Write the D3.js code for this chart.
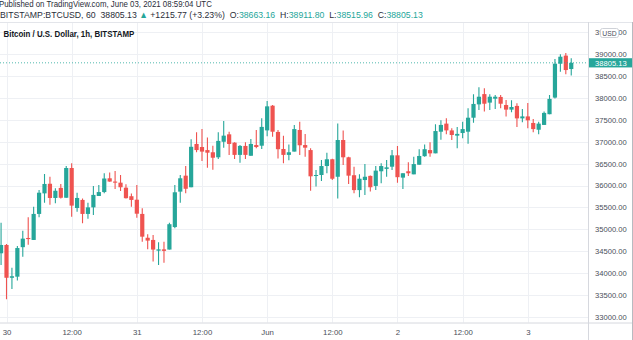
<!DOCTYPE html>
<html><head><meta charset="utf-8">
<script src="https://cdn.jsdelivr.net/npm/d3@7"></script>
<style>html,body{margin:0;padding:0;background:#fff;overflow:hidden}</style>
</head><body><svg id="c" width="633" height="340"></svg>
<script>
// ---- data (BTCUSD 1h candles, May 29 23:00 UTC -> Jun 3 08:00 UTC) ----
const startTime = "2021-05-29T23:00:00Z";
const open = [34450,34640,33890,33915,34590,34800,34755,35350,35820,36040,
35715,35945,35720,36400,35485,35670,35350,35500,35760,35850,
36165,36090,36065,35950,35755,35675,35350,34805,34755,34510,
34540,34535,35050,35860,36225,35960,36950,36880,36810,36760,
36645,37000,37170,36980,36700,36905,36680,36925,36910,37260,
37825,37225,36835,36700,36775,37270,36925,36810,36220,36240,
36445,36600,36200,37040,36645,36235,35895,36125,36220,35990,
36325,36380,36430,36690,36180,36325,36255,36475,36670,36810,
36735,37230,37415,37260,37140,37200,37230,37550,37855,38090,
37895,37985,38025,37840,37735,37820,37535,37580,37430,37275,
37385,37630,38010,38785,38970,38663.16];
const high = [35150,34660,34120,34615,34965,35275,35515,35895,36265,36200,
35935,36035,36445,36510,35835,35700,35605,35990,36010,36280,
36300,36330,36240,36030,35815,36010,35480,34885,34870,34700,
34715,35150,36010,36240,36445,37055,37215,37290,37095,36910,
37215,37475,37230,36990,36925,36990,37065,37270,37535,37930,
37840,37270,37140,36940,37385,37460,37180,36850,36355,36585,
36750,36610,37420,37255,36660,36430,36255,36490,36230,36445,
36510,36585,36810,36905,36280,36530,36660,36830,36940,36990,
37400,37490,37535,37310,37340,37460,37765,38085,38245,38225,
38085,38070,38070,37955,37950,37880,37750,37885,37520,37460,
37690,38070,38890,39000,39030,38911.80];
const low = [34185,33400,33635,33825,34370,34645,34755,35275,35605,35560,
35595,35700,35720,35285,35400,35135,35240,35325,35760,35820,
36085,35920,35875,35705,35515,35265,34715,34540,34260,34185,
34235,34535,35020,35605,35820,35960,36760,36560,36405,36360,
36605,36865,36700,36605,36520,36605,36680,36850,36835,37125,
37115,36620,36510,36575,36775,36700,36660,35880,35975,36105,
36280,36125,35700,36470,36035,35820,35730,35785,35860,35895,
36050,36200,36355,36065,35920,36220,36255,36475,36660,36660,
36735,37045,37170,37040,36850,37080,36955,37435,37725,37690,
37725,37750,37765,37580,37675,37340,37445,37310,37215,37170,
37385,37630,37990,38600,38545,38515.96];
const close = [34640,33890,33925,34570,34785,34775,35350,35835,36035,35715,
35880,35720,36400,35540,35715,35350,35500,35785,35850,36160,
36090,36065,35960,35710,35670,35355,34830,34740,34535,34540,
34505,35115,35845,36165,35925,36885,36810,36775,36750,36635,
37020,37140,36950,36700,36905,36700,36950,36880,37340,37810,
37230,36830,36700,36760,37290,36920,36865,36210,36240,36445,
36600,36155,37040,36645,36225,35895,36155,36200,35960,36340,
36445,36415,36690,36190,36280,36280,36490,36675,36830,36735,
37245,37385,37260,37155,37180,37290,37550,37865,38030,37870,
38030,38030,37870,37735,37795,37535,37580,37490,37290,37415,
37660,37980,38785,38945,38640,38805.13];
const yTicks = [33000,33500,34000,34500,35000,35500,36000,36500,37000,37500,38000,38500,39000,39500];
const xTickTimes = ["2021-05-30T00:00:00Z","2021-05-30T12:00:00Z","2021-05-31T00:00:00Z","2021-05-31T12:00:00Z","2021-06-01T00:00:00Z","2021-06-01T12:00:00Z","2021-06-02T00:00:00Z","2021-06-02T12:00:00Z","2021-06-03T00:00:00Z"];
const xTickLabels = ["30","12:00","31","12:00","Jun","12:00","2","12:00","3"];
const lastPrice = 38805.13;
const headerLine1 = "Published on TradingView.com, June 03, 2021 08:59:04 UTC";
const title = "Bitcoin / U.S. Dollar, 1h, BITSTAMP";

// ---- layout ----
const UP = "#26a69a", DOWN = "#ef5350";
const paneL = 0, paneR = 588, paneT = 22, paneB = 322.5, W = 633;
const svg = d3.select("#c");
const font = "'Liberation Sans', Arial, sans-serif";

const t0 = new Date(startTime).getTime();
const candles = open.map((o, i) => ({t: new Date(t0 + i * 3600e3), o, h: high[i], l: low[i], c: close[i]}));

const x = d3.scaleUtc()
  .domain([new Date("2021-05-30T00:00:00Z"), new Date("2021-06-03T00:00:00Z")])
  .range([6.5, 527.8]);
const y = d3.scaleLinear().domain([33000, 39000]).range([316.7, 54.3]);

// gridlines
const grid = svg.append("g");
grid.selectAll("line.h").data(yTicks).join("line")
  .attr("x1", paneL).attr("x2", paneR)
  .attr("y1", d => Math.round(y(d)) + 0.5).attr("y2", d => Math.round(y(d)) + 0.5)
  .attr("stroke", "#eef0f4").attr("stroke-width", 1);
grid.selectAll("line.v").data(xTickTimes).join("line")
  .attr("y1", paneT).attr("y2", paneB)
  .attr("x1", d => Math.round(x(new Date(d))) + 0.5).attr("x2", d => Math.round(x(new Date(d))) + 0.5)
  .attr("stroke", "#eef0f4").attr("stroke-width", 1);

// borders
svg.append("line").attr("x1", 0).attr("x2", W).attr("y1", paneT + 0.5).attr("y2", paneT + 0.5).attr("stroke", "#e3e5ea");
svg.append("line").attr("x1", 0).attr("x2", 632).attr("y1", paneB + 0.5).attr("y2", paneB + 0.5).attr("stroke", "#d6d8de");
svg.append("line").attr("x1", paneR + 0.5).attr("x2", paneR + 0.5).attr("y1", paneT).attr("y2", 340).attr("stroke", "#d6d8de");
svg.append("line").attr("x1", 632.5).attr("x2", 632.5).attr("y1", paneT).attr("y2", 340).attr("stroke", "#b8bac0");

// candles
svg.append("clipPath").attr("id", "clp").append("rect")
  .attr("x", paneL).attr("y", paneT + 1).attr("width", paneR - paneL).attr("height", paneB - paneT - 1);
const cg = svg.append("g").attr("clip-path", "url(#clp)");
const bw = 4.2;
const cs = cg.selectAll("g.c").data(candles).join("g");
cs.append("line")
  .attr("x1", d => x(d.t)).attr("x2", d => x(d.t))
  .attr("y1", d => y(d.h)).attr("y2", d => y(d.l))
  .attr("stroke", d => d.c >= d.o ? UP : DOWN).attr("stroke-width", 1.1);
cs.append("rect")
  .attr("x", d => x(d.t) - bw / 2).attr("width", bw)
  .attr("y", d => y(Math.max(d.o, d.c)))
  .attr("height", d => Math.max(1, Math.abs(y(d.o) - y(d.c))))
  .attr("fill", d => d.c >= d.o ? UP : DOWN);

// last price dotted line
svg.append("line").attr("x1", 0).attr("x2", paneR).attr("y1", y(lastPrice)).attr("y2", y(lastPrice))
  .attr("stroke", UP).attr("stroke-dasharray", "1,2").attr("stroke-opacity", 0.8);

// y axis
const yAxis = d3.axisRight(y).tickValues(yTicks).tickSize(0).tickPadding(7).tickFormat(d3.format(".2f"));
const ya = svg.append("g").attr("transform", `translate(${paneR},0)`).call(yAxis);
ya.select(".domain").remove();
ya.selectAll("text").attr("font-family", font).attr("font-size", 7.6).attr("fill", "#4a4e59");

// x axis
const xAxis = d3.axisBottom(x).tickValues(xTickTimes.map(d => new Date(d))).tickSize(0).tickPadding(0)
  .tickFormat((d, i) => xTickLabels[i]);
const xa = svg.append("g").attr("transform", `translate(0,${paneB + 6.5})`).call(xAxis);
xa.select(".domain").remove();
xa.selectAll("text").attr("font-family", font).attr("font-size", 7.8).attr("fill", "#4a4e59");

// USD badge
svg.append("rect").attr("x", 600.5).attr("y", 28.5).attr("width", 18).attr("height", 9).attr("rx", 2)
  .attr("fill", "#fff").attr("stroke", "#cfd2d8");
svg.append("text").attr("x", 609.5).attr("y", 35.6).attr("text-anchor", "middle")
  .attr("font-family", font).attr("font-size", 6.8).attr("fill", "#4a4e59").text("USD");

// last price label
svg.append("rect").attr("x", paneR + 1).attr("y", y(lastPrice) - 4.6).attr("width", 43).attr("height", 9.2).attr("fill", UP);
svg.append("text").attr("x", paneR + 7).attr("y", y(lastPrice) + 2.8)
  .attr("font-family", font).attr("font-size", 7.6).attr("fill", "#fff").text(d3.format(".2f")(lastPrice));

// header texts
function fitText(sel, target) {
  const w = sel.node().getComputedTextLength();
  const xx = +sel.attr("x"), yy = +sel.attr("y");
  sel.attr("x", 0).attr("y", 0).attr("transform", `translate(${xx},${yy}) scale(${target / w},1)`);
}
const l1 = svg.append("text").attr("x", -1).attr("y", 7).attr("font-family", font).attr("font-size", 9.5)
  .attr("fill", "#2a2e39").text(headerLine1);
fitText(l1, 213);

const l2 = svg.append("text").attr("x", 0).attr("y", 18.3).attr("font-family", font).attr("font-size", 9.5).attr("fill", "#2a2e39");
const chg = "+1215.77 (+3.23%)";
const parts = [
  ["BITSTAMP:BTCUSD, 60  38805.13 ", "#2a2e39"],
  ["\u25B2", UP],
  [" " + chg + "  O:", "#2a2e39"], [d3.format(".2f")(open[open.length - 1]), UP],
  ["  H:", "#2a2e39"], [d3.format(".2f")(high[high.length - 1]), UP],
  ["  L:", "#2a2e39"], [d3.format(".2f")(low[low.length - 1]), UP],
  ["  C:", "#2a2e39"], [d3.format(".2f")(close[close.length - 1]), UP]
];
l2.selectAll("tspan").data(parts).join("tspan").attr("fill", d => d[1]).attr("xml:space", "preserve").text(d => d[0]);
l2.attr("xml:space", "preserve");
fitText(l2, 423);

const tt = svg.append("text").attr("x", 3.5).attr("y", 36.5).attr("font-family", font).attr("font-size", 8.6)
  .attr("font-weight", "bold").attr("fill", "#131722").text(title);
fitText(tt, 131);
</script></body></html>
